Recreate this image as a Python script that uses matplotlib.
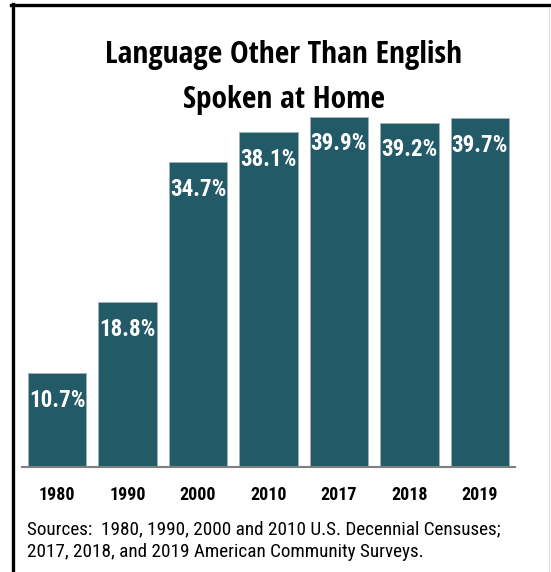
import matplotlib
matplotlib.use("Agg")
import matplotlib.pyplot as plt
from matplotlib.lines import Line2D

years = ["1980", "1990", "2000", "2010", "2017", "2018", "2019"]
pct = [10.7, 18.8, 34.7, 38.1, 39.9, 39.2, 39.7]
title_lines = ["Language Other Than English", "Spoken at Home"]
source_lines = [
    "Sources:  1980, 1990, 2000 and 2010 U.S. Decennial Censuses;",
    "2017, 2018, and 2019 American Community Surveys.",
]

W, H = 551, 572
bar_color = "#235a68"
narrow = ["Roboto Condensed", "Pragati Narrow", "DejaVu Sans"]
cond = ["Open Sans Condensed", "PT Sans Narrow", "DejaVu Sans"]

fig = plt.figure(figsize=(W / 100, H / 100), dpi=100)
fig.patch.set_facecolor("white")

# axes box in pixels: x 22..515, baseline at y=467 from top
left, right = 22, 515
base, top = 467, 467 - 45 * 8.78
ax = fig.add_axes([left / W, (H - base) / H, (right - left) / W, (base - top) / H])

x = range(len(years))
bars = ax.bar(x, pct, width=0.83, color=bar_color, edgecolor="#9fb3b8", linewidth=0.6)
ax.set_xlim(-0.5, 6.5)
ax.set_ylim(0, 45)

for b, v in zip(bars, pct):
    ax.annotate(f"{v}%", (b.get_x() + b.get_width() / 2, v), xytext=(0, -19.5),
                textcoords="offset points", ha="center", va="center",
                color="white", fontsize=16.6, fontweight="bold", family=narrow)

for s in ["left", "right", "top"]:
    ax.spines[s].set_visible(False)
ax.spines["bottom"].set_color("#7f7f7f")
ax.spines["bottom"].set_linewidth(1.5)
ax.set_yticks([])
ax.set_xticks(list(x))
ax.set_xticklabels(years, fontsize=13, fontweight="bold", family=narrow)
ax.tick_params(axis="x", length=0, pad=23.5)
for lab in ax.get_xticklabels():
    lab.set_verticalalignment("baseline")

# title, two lines
for txt, yb in zip(title_lines, [63, 108]):
    fig.text(284 / W, 1 - yb / H, txt, ha="center", va="baseline",
             fontsize=22.6, fontweight="bold", family=cond)

for txt, yb in zip(source_lines, [534, 557]):
    fig.text(27 / W, 1 - yb / H, txt, ha="left", va="baseline",
             fontsize=13.8, family=narrow)

# frame around the graphic
fig.add_artist(Line2D([11 / W, 1], [1 - 5 / H, 1 - 5 / H], transform=fig.transFigure,
                      color="black", linewidth=2.4))
fig.add_artist(Line2D([12.5 / W, 12.5 / W], [1 - 3.8 / H, 0], transform=fig.transFigure,
                      color="black", linewidth=2.4))
fig.add_artist(Line2D([549 / W, 549 / W], [1 - 7 / H, 0], transform=fig.transFigure,
                      color="#d8d8d8", linewidth=0.8))

fig.savefig("out.png", dpi=100)
